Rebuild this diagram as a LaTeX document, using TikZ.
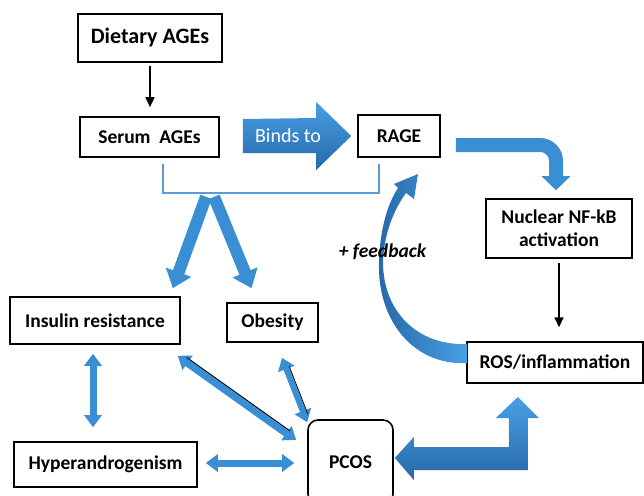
\documentclass[tikz,border=0pt]{standalone}
\usepackage{fontspec}
\setmainfont{Carlito}
\usetikzlibrary{arrows.meta,calc}
\definecolor{ablue}{RGB}{58,142,212}
\definecolor{abluel}{RGB}{72,160,228}
\definecolor{ablued}{RGB}{38,104,170}
\definecolor{bline}{RGB}{91,155,213}
\begin{document}
\begin{tikzpicture}[x=1pt,y=-1pt,
  box/.style={draw=black,line width=1.6pt,fill=white,inner sep=0pt,align=center,
    font=\bfseries\fontsize{19.5}{23}\selectfont},
  blk/.style={-{Triangle[width=9pt 0 0,length=10pt 0 0]},line width=1.5pt,draw=black},
  vthick/.style={-{Triangle[width=26pt 0 0,length=17pt 0 0]},line width=12pt,draw=ablue},
  dbl/.style={{Triangle[width=17pt 0 0,length=12pt 0 0]}-{Triangle[width=17pt 0 0,length=12pt 0 0]},line width=7pt,draw=ablue},
  curvy/.style={-{Triangle[width=28pt 0 0,length=14pt 0 0]},line width=14pt,draw=ablue,rounded corners=16pt},
  edgeline/.style={draw=black,line width=0.8pt}]
\useasboundingbox (0,0) rectangle (644,495);
\fill[white] (0,0) rectangle (644,495);

% boxes
\node[box,minimum width=144pt,minimum height=48pt,font=\bfseries\fontsize{22}{26}\selectfont] (diet) at (150,38) {Dietary AGEs};
\node[box,minimum width=139pt,minimum height=40pt] (serum) at (149.5,137) {Serum\ \ AGEs};
\node[box,minimum width=82pt,minimum height=42pt] (rage) at (399,136) {RAGE};
\node[box,minimum width=146pt,minimum height=59pt] (nfkb) at (559,228.5) {Nuclear NF-kB\\activation};
\node[box,minimum width=176pt,minimum height=41pt,line width=1.4pt] (ros) at (555,362.5) {ROS/inflammation};
\node[box,minimum width=170pt,minimum height=47pt] (ins) at (95,320.5) {Insulin resistance};
\node[box,minimum width=91pt,minimum height=39pt] (obe) at (272.5,322.5) {Obesity};
\node[box,minimum width=183pt,minimum height=45pt] (hyp) at (105.5,464.5) {Hyperandrogenism};
\node[box,rounded corners=10pt,minimum width=85pt,minimum height=84pt] (pcos) at (350.5,462) {PCOS};

% black arrows
\draw[blk,shorten <=3pt,shorten >=9pt] (diet.south) -- (diet.south |- serum.north);
\draw[blk,shorten <=4pt,shorten >=14pt] (nfkb.south) -- (nfkb.south |- ros.north);

% binds to
\shade[top color=abluel,bottom color=ablued]
  ($(serum.east)+(23,-18)$) -- ($(rage.west)+(-41,-18)$) -- ($(rage.west)+(-41,-34)$)
  -- ($(rage.west)+(-6,0)$) -- ($(rage.west)+(-41,34)$) -- ($(rage.west)+(-41,17)$)
  -- ($(serum.east)+(23,16)$) -- cycle;
\node[text=white,font=\fontsize{20}{24}\selectfont] (binds) at (288,136) {Binds to};

% bracket
\draw[bline,line width=2pt] ($(serum.south)+(13.5,6)$) |- ($(rage.south)+(-20,35)$) -- ($(rage.south)+(-20,6)$);

% V arrows
\coordinate (apex) at ($(serum.south)+(60.5,38)$);
\draw[vthick] ($(apex)+(-4,1)$) -- ($(ins.north east)+(-8,-8)$);
\draw[vthick] ($(apex)+(4,1)$) -- ($(obe.north)+(-21,-14)$);

% RAGE -> NF-kB
\draw[curvy] ($(rage.east)+(15,9)$) -| ($(nfkb.north)+(-3,-8)$);

% feedback curved arrow
\shade[left color=ablued,right color=abluel]
  (467,363) .. controls (415,366) and (377,322) .. (379,262)
  .. controls (380,228) and (388,203) .. (398,188)
  -- (394,184) -- (418,174) -- (414,199) -- (406,193)
  .. controls (395,208) and (384,232) .. (383,262)
  .. controls (383,312) and (418,346) .. (467,344) -- cycle;
\node[font=\bfseries\itshape\fontsize{19.5}{23}\selectfont] (fb) at (382.5,252) {+ feedback};

% double arrows
\draw[dbl] ($(ins.south)+(-2,9)$) -- ($(hyp.north)+(-12.5,-14)$);
\draw[dbl,line width=8pt] ($(ins.south east)+(-3,11)$) -- ($(pcos.west)+(-11,-22)$);
\draw[edgeline] ($(ins.south east)+(6,12.7)$) -- ($(pcos.west)+(-17,-31)$);
\draw[dbl,line width=6pt] ($(obe.south)+(9.5,15)$) -- ($(pcos.north west)+(0,3)$);
\draw[edgeline] ($(obe.south)+(16.7,23.6)$) -- ($(pcos.north west)+(0.7,-4.9)$);
\draw[dbl] ($(hyp.east)+(8,-1.5)$) -- ($(pcos.west)+(-13,1)$);

% PCOS <-> ROS block arrow
\begin{scope}[shift={(pcos.east)}]
\shade[top color=abluel,bottom color=ablued]
  (1,-4) -- (20,-25) -- (20,-15) -- (115,-15) -- (115,-44) -- (102,-44)
  -- (124,-65) -- (145,-44) -- (134,-44) -- (134,8) -- (20,8) -- (20,18) -- cycle;
\end{scope}
\end{tikzpicture}
\end{document}
